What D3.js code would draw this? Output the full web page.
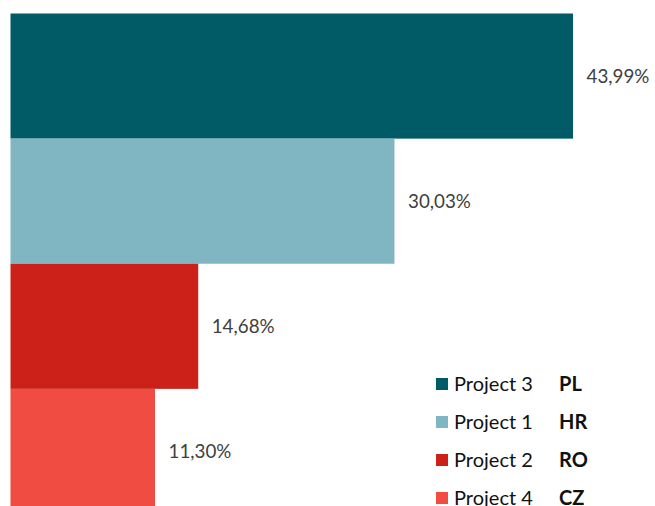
<!DOCTYPE html>
<html><head><meta charset="utf-8">
<script src="https://cdn.jsdelivr.net/npm/d3@7"></script>
<style>body{margin:0;background:#fff}svg{display:block}</style>
</head><body>
<script>
const projects = ["Project 3", "Project 1", "Project 2", "Project 4"];
const codes = ["PL", "HR", "RO", "CZ"];
const values = [43.99, 30.03, 14.68, 11.30];
const colors = ["#005B66", "#80B6C2", "#CC2119", "#F04C41"];

const W = 655, H = 506;
const svg = d3.select("body").append("svg").attr("width", W).attr("height", H);
const font = "Lato, 'Open Sans', sans-serif";

const x = d3.scaleLinear().domain([0, 43.99]).range([10.5, 573]);
const y = d3.scaleBand().domain(projects).range([13.5, 514]).padding(0);

svg.selectAll("rect.bar").data(values).join("rect")
  .attr("x", x(0)).attr("y", (d, i) => y(projects[i]))
  .attr("width", d => x(d) - x(0)).attr("height", y.bandwidth())
  .attr("fill", (d, i) => colors[i]);

const fmt = d => d.toFixed(2).replace(".", ",") + "%";
svg.selectAll("text.lab").data(values).join("text")
  .attr("x", d => x(d) + 13.5).attr("y", (d, i) => y(projects[i]) + y.bandwidth() / 2)
  .attr("dy", "0.35em").attr("font-family", font).attr("font-size", 18.8)
  .attr("fill", "#404040").text(fmt);

const lg = svg.append("g");
projects.forEach((p, i) => {
  const cy = 384 + i * 38;
  lg.append("rect").attr("x", 436).attr("y", cy - 6).attr("width", 12).attr("height", 12).attr("fill", colors[i]);
  lg.append("text").attr("x", 454).attr("y", cy).attr("dy", "0.35em")
    .attr("font-family", font).attr("font-size", 20).attr("fill", "#111").text(p);
  lg.append("text").attr("x", 559).attr("y", cy).attr("dy", "0.35em")
    .attr("font-family", font).attr("font-size", 20).attr("font-weight", "bold").attr("fill", "#111").text(codes[i]);
});
</script>
</body></html>
